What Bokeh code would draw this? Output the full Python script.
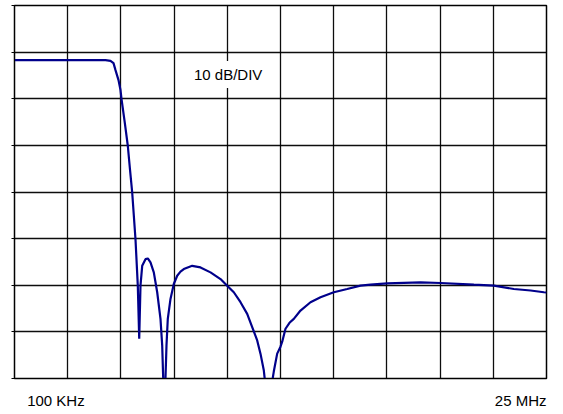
from bokeh.plotting import figure
from bokeh.models import Range1d, FixedTicker, Label
from bokeh.embed import file_html
from bokeh.resources import INLINE

# Frequency axis (linear sweep 100 kHz .. 25 MHz), level in dB (10 dB/div)
freq_mhz = [0.1, 2.253, 4.359, 4.593, 4.734, 4.827, 4.968, 5.061, 5.108, 5.263,
            5.403, 5.506, 5.609, 5.763, 5.871, 5.937, 5.997, 6.077, 6.231, 6.339,
            6.465, 6.620, 6.779, 6.933, 7.013, 7.060, 7.111, 7.167, 7.214, 7.275,
            7.401, 7.556, 7.715, 7.869, 8.024, 8.417, 8.806, 9.274, 9.742, 10.055,
            10.364, 10.678, 10.991, 11.225, 11.459, 11.613, 11.768, 11.871, 12.035, 12.161,
            12.236, 12.395, 12.550, 12.630, 12.784, 12.971, 13.173, 13.486, 13.954, 14.422,
            15.045, 15.672, 16.294, 16.762, 17.544, 19.107, 20.043, 21.601, 22.537, 23.473,
            24.254, 24.876, 25.0]
level_db = [-11.73, -11.73, -11.73, -11.88, -12.37, -13.87, -16.00, -18.13, -20.05, -25.17,
            -30.08, -35.20, -40.11, -50.13, -60.09, -71.47, -60.09, -55.83, -54.40, -54.25,
            -55.10, -57.24, -61.50, -67.20, -72.90, -80.00, -82.56, -80.00, -72.90, -67.20,
            -62.93, -59.73, -57.96, -57.07, -56.53, -55.83, -56.17, -57.24, -58.67, -60.09,
            -61.50, -63.64, -66.13, -68.97, -71.83, -74.67, -78.23, -82.56, -84.27, -80.64,
            -78.51, -74.67, -73.17, -72.11, -69.33, -68.05, -67.20, -65.43, -63.64, -62.57,
            -61.50, -60.80, -60.09, -59.88, -59.58, -59.37, -59.52, -59.88, -60.09, -60.80,
            -61.12, -61.50, -61.55]

x_label_pos = [2.04, 23.89]
x_label_text = ["100 KHz", "25  MHz"]
scale_text = "10 dB/DIV"
f_start, f_stop = 0.1, 25.0
db_top, db_bottom = 0, -80

FONT = "Liberation Sans"

p = figure(width=547, height=407, output_backend="svg", toolbar_location=None,
           x_range=Range1d(f_start, f_stop), y_range=Range1d(db_bottom, db_top),
           min_border_left=6, min_border_right=9, min_border_top=1, min_border_bottom=31)
p.styles = {"margin": "4px 0px 0px 8px"}

p.background_fill_color = "white"
p.border_fill_color = "white"
p.outline_line_color = "black"
p.outline_line_width = 1.5

div_x = [f_start + (f_stop - f_start) * i / 10 for i in range(11)]
div_y = list(range(db_bottom, db_top + 1, 10))

p.xgrid.ticker = FixedTicker(ticks=div_x)
p.ygrid.ticker = FixedTicker(ticks=div_y)
for g in (p.xgrid, p.ygrid):
    g.grid_line_color = "black"
    g.grid_line_alpha = 0.95
    g.grid_line_width = 1.3

xa = p.xaxis[0]
xa.ticker = FixedTicker(ticks=x_label_pos)
xa.major_label_overrides = dict(zip(x_label_pos, x_label_text))
xa.major_tick_line_color = None
xa.major_tick_in = 0
xa.major_tick_out = 0
xa.minor_tick_line_color = None
xa.axis_line_color = "black"
xa.major_label_standoff = 13
xa.major_label_text_font = FONT
xa.major_label_text_font_size = "15px"
xa.major_label_text_color = "black"

ya = p.yaxis[0]
ya.ticker = FixedTicker(ticks=div_y)
ya.major_label_overrides = {v: "" for v in div_y}
ya.major_tick_in = 0
ya.major_tick_out = 3
ya.major_tick_line_color = "black"
ya.minor_tick_line_color = None
ya.axis_line_color = "black"
ya.major_label_standoff = 0

p.line(freq_mhz, level_db, line_color="#00008b", line_width=2.2)

p.add_layout(Label(x=10.1, y=-14.8, text=scale_text, text_align="center",
                   text_baseline="middle", text_font=FONT, text_font_size="15px",
                   text_color="black", background_fill_color="white", padding=5))

open("out.html", "w").write(file_html(p, INLINE))
